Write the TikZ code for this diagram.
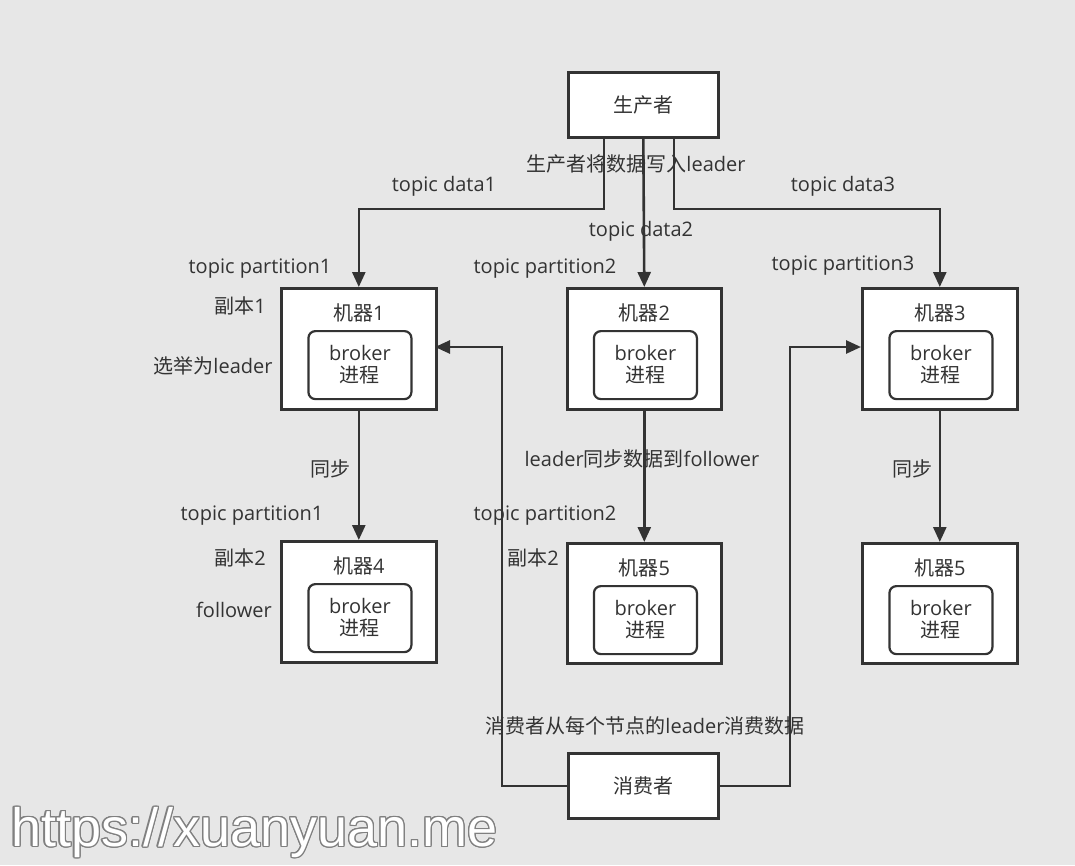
\documentclass[tikz,border=0pt]{standalone}
\usepackage{fontspec}
\setmainfont{Open Sans}
\newfontfamily\cjk{Noto Sans CJK SC}
\newfontfamily\wmfont{Liberation Sans}
\usepackage[copies]{contour}
\usetikzlibrary{arrows.meta}
\definecolor{bg}{HTML}{E7E7E7}
\definecolor{ink}{HTML}{333333}
\definecolor{txt}{HTML}{333333}
\tikzset{
  box/.style={draw=ink, line width=2.6pt, fill=white, anchor=north west, inner sep=0pt},
  inner/.style={draw=ink, line width=2.2pt, fill=white, rounded corners=7pt, anchor=north west, inner sep=0pt},
  lbl/.style={text=txt, font=\fontsize{20}{23}\selectfont, inner sep=0pt},
  conn/.style={draw=ink, line width=2.6pt},
  arr/.style={conn, -{Triangle[length=15pt,width=13pt]}}
}
\newcommand{\machine}[6]{% name, x, y(top), w, h, label
  \node[box, minimum width=#4pt, minimum height=#5pt] (#1) at (#2,#3) {};
  \node[lbl] (#1t) at ([yshift=-26pt]#1.north) {{\cjk 机器}#6};
  \node[inner, minimum width=103pt, minimum height=68pt] (#1i) at ([xshift=-51.5pt,yshift=-43pt]#1.north) {};
  \node[lbl, align=center] (#1b) at (#1i.center) {broker\\[-1pt]{\cjk 进程}};
}
\begin{document}
\begin{tikzpicture}[x=1pt,y=-1pt]
\fill[bg] (0,0) rectangle (1075,865);
\useasboundingbox (0,0) rectangle (1075,865);

% producer & consumer
\node[box, minimum width=150pt, minimum height=65pt] (prod) at (567,71) {};
\node[lbl] (prodt) at (prod.center) {\cjk 生产者};
\node[box, minimum width=150pt, minimum height=65pt] (cons) at (567,752) {};
\node[lbl] (const) at (cons.center) {\cjk 消费者};

% machines
\machine{m1}{280}{287}{155}{121}{1}
\machine{m2}{566}{287}{154}{121}{2}
\machine{m3}{861}{287}{155}{121}{3}
\machine{m4}{280}{540}{155}{121}{4}
\machine{m5}{566}{542}{154}{120}{5}
\machine{m6}{861}{542}{155}{120}{5}

% producer connectors
\coordinate (pL) at (604,136);
\coordinate (pR) at (674,136);
\draw[arr] (pL) |- (580,209) -| (m1.north);
\draw[arr] (prod.south) -- (m2.north);
\draw[arr] (pR) |- (700,209) -| (m3.north);

% sync
\draw[arr] (m1.south) -- (m4.north);
\draw[arr] (m2.south) -- (m5.north);
\draw[arr] (m3.south) -- (m6.north);

% consumer connectors
\coordinate (c1) at (435,347);
\coordinate (c3) at (861,347);
\draw[arr] (cons.west) -| (502,347) -- (c1);
\draw[arr] (cons.east) -| (790,347) -- (c3);

% labels
\node[lbl] (l1) at (636,164) {{\cjk 生产者将数据写入}leader};
\node[lbl] (l2) at (444,186) {topic data1};
\node[lbl] (l3) at (641,231) {topic data2};
\node[lbl] (l4) at (843,186) {topic data3};
\node[lbl] (l5) at (260,269) {topic partition1};
\node[lbl] (l6) at (545,269) {topic partition2};
\node[lbl] (l7) at (843,266) {topic partition3};
\node[lbl] (l8) at (240,306) {{\cjk 副本}1};
\node[lbl] (l9) at (213,366) {{\cjk 选举为}leader};
\node[lbl] (l10) at (330,469) {\cjk 同步};
\node[lbl] (l11) at (642,459) {leader{\cjk 同步数据到}follower};
\node[lbl] (l12) at (912,469) {\cjk 同步};
\node[lbl] (l13) at (252,516) {topic partition1};
\node[lbl] (l14) at (545,516) {topic partition2};
\node[lbl] (l15) at (240,558) {{\cjk 副本}2};
\node[lbl] (l16) at (234,610) {follower};
\node[lbl] (l17) at (533,558) {{\cjk 副本}2};
\node[lbl] (l18) at (645,726) {{\cjk 消费者从每个节点的}leader{\cjk 消费数据}};

% watermark
\contourlength{1.3pt}
\node[inner sep=0pt, anchor=west] (wm) at (11,833) {\wmfont\fontsize{54}{58}\selectfont\contour{gray}{\textcolor{white}{https://xuanyuan.me}}};
\end{tikzpicture}
\end{document}
